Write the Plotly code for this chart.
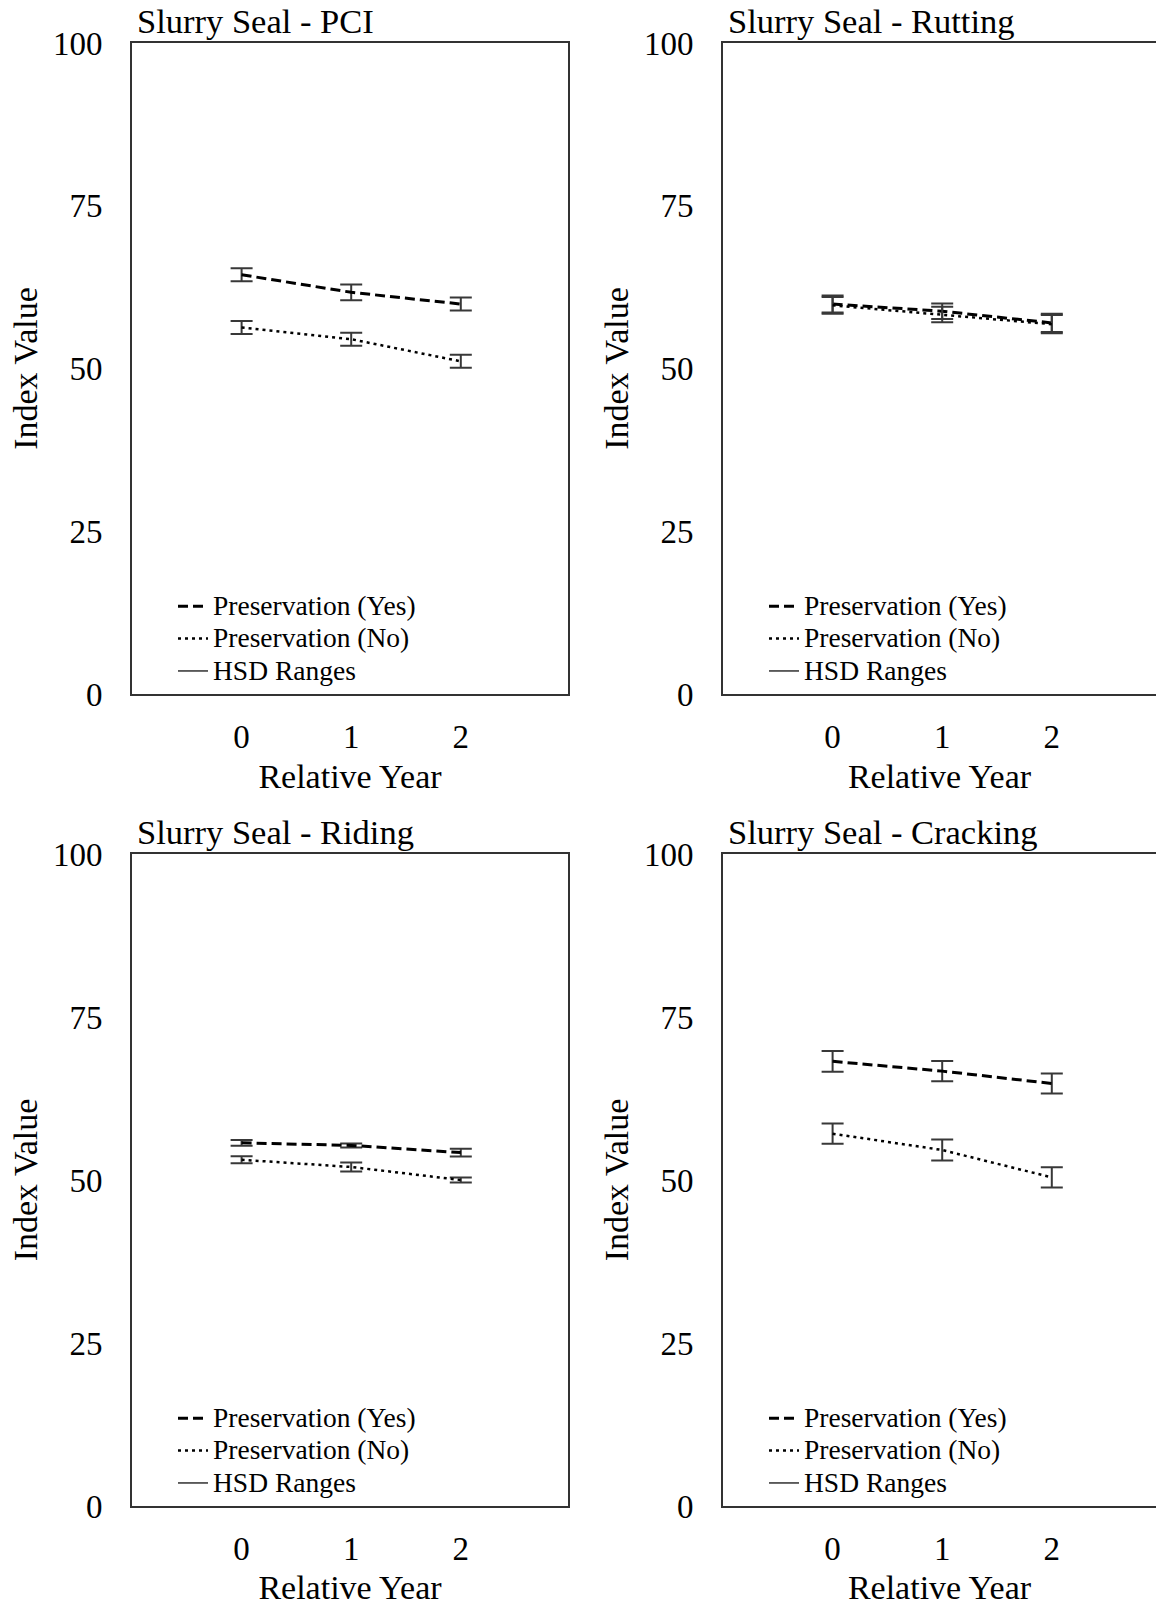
import plotly.graph_objects as go

# ---------------- data ----------------
years = [0, 1, 2]
year_ticks = ["0", "1", "2"]
y_ticks = [0, 25, 50, 75, 100]

titles = ["Slurry Seal - PCI", "Slurry Seal - Rutting", "Slurry Seal - Riding", "Slurry Seal - Cracking"]
series_names = ["Preservation (Yes)", "Preservation (No)", "HSD Ranges"]

pci_yes = [64.4, 61.7, 59.9]
pci_no = [56.3, 54.5, 51.1]
pci_hsd_yes = [1.0, 1.2, 1.0]
pci_hsd_no = [1.0, 1.0, 1.0]

rut_yes = [59.9, 58.8, 57.0]
rut_no = [59.7, 58.3, 56.8]
rut_hsd_yes = [1.3, 1.2, 1.4]
rut_hsd_no = [1.3, 1.2, 1.4]

rid_yes = [55.7, 55.3, 54.2]
rid_no = [53.1, 52.0, 50.0]
rid_hsd_yes = [0.45, 0.3, 0.6]
rid_hsd_no = [0.55, 0.7, 0.4]

crk_yes = [68.2, 66.7, 64.8]
crk_no = [57.1, 54.6, 50.4]
crk_hsd_yes = [1.6, 1.55, 1.55]
crk_hsd_no = [1.55, 1.6, 1.55]

panels = [
    (pci_yes, pci_no, pci_hsd_yes, pci_hsd_no),
    (rut_yes, rut_no, rut_hsd_yes, rut_hsd_no),
    (rid_yes, rid_no, rid_hsd_yes, rid_hsd_no),
    (crk_yes, crk_no, crk_hsd_yes, crk_hsd_no),
]

# ---------------- layout geometry ----------------
W, H = 1156, 1606
FONT = "Liberation Serif, Times New Roman, serif"
px_per_year = 109.6
left_x = [132, 723, 132, 723]
right_x = [568, 1156, 568, 1156]
top_y = [43, 43, 854, 854]
bot_y = [694, 694, 1506, 1506]
x0_offset = 109.6  # px from frame left to year 0


def legend_label(s):
    return '<span style="font-size:27.5px">' + s + '</span>'


fig = go.Figure()
axis_sfx = ["", "2", "3", "4"]
legend_names = ["legend", "legend2", "legend3", "legend4"]

for i, (yes, no, hyes, hno) in enumerate(panels):
    xa = "x" + axis_sfx[i]
    ya = "y" + axis_sfx[i]
    lg = legend_names[i]
    fig.add_trace(go.Scatter(
        x=years, y=yes, mode="lines", name=legend_label(series_names[0]),
        line=dict(color="black", width=3, dash="10px,5px"),
        error_y=dict(type="data", array=hyes, visible=True, color="#383838", thickness=2, width=11),
        xaxis=xa, yaxis=ya, legend=lg))
    fig.add_trace(go.Scatter(
        x=years, y=no, mode="lines", name=legend_label(series_names[1]),
        line=dict(color="black", width=2.5, dash="3px,4px"),
        error_y=dict(type="data", array=hno, visible=True, color="#383838", thickness=2, width=11),
        xaxis=xa, yaxis=ya, legend=lg))
    fig.add_trace(go.Scatter(
        x=[None], y=[None], mode="lines", name=legend_label(series_names[2]),
        line=dict(color="#303030", width=1.5),
        xaxis=xa, yaxis=ya, legend=lg))

layout = dict(
    template="none",
    width=W, height=H,
    margin=dict(l=0, r=0, t=0, b=0, autoexpand=False),
    paper_bgcolor="white", plot_bgcolor="white",
    font=dict(family=FONT, color="black", size=33),
    showlegend=True,
)

annotations = []
for i in range(4):
    xs = axis_sfx[i]
    xdom = [left_x[i] / W, right_x[i] / W]
    ydom = [1 - bot_y[i] / H, 1 - top_y[i] / H]
    width_px = right_x[i] - left_x[i]
    xr = [-x0_offset / px_per_year, (width_px - x0_offset) / px_per_year]
    right_panel = i in (1, 3)
    layout["xaxis" + xs] = dict(
        domain=xdom, range=xr, anchor="y" + xs, automargin=False,
        tickvals=years, ticktext=year_ticks,
        showgrid=False, zeroline=False,
        showline=True, linecolor="#333333", linewidth=2, mirror=True,
        ticks="", ticklabelstandoff=12,
        tickfont=dict(family=FONT, size=33, color="black"),
        title=dict(text="Relative Year", font=dict(family=FONT, size=34, color="black"), standoff=11),
    )
    layout["yaxis" + xs] = dict(
        domain=ydom, range=[0, 100], anchor="x" + xs, automargin=False,
        tickvals=y_ticks,
        showgrid=False, zeroline=False,
        showline=True, linecolor="#333333", linewidth=2, mirror=(not right_panel),
        ticks="", ticklabelstandoff=21,
        tickfont=dict(family=FONT, size=33, color="black"),
        title=dict(text="Index Value", font=dict(family=FONT, size=34, color="black"), standoff=5),
    )
    annotations.append(dict(
        text=titles[i], xref="paper", yref="paper",
        x=(left_x[i] + 3) / W, y=1 - (top_y[i] - 22) / H,
        xanchor="left", yanchor="middle", showarrow=False,
        font=dict(family=FONT, size=34.5, color="black")))
    layout[legend_names[i]] = dict(
        x=(left_x[i] + 41) / W, y=1 - (bot_y[i] - 109) / H,
        xanchor="left", yanchor="top",
        bgcolor="rgba(0,0,0,0)", borderwidth=0,
        font=dict(family=FONT, size=22.6, color="black"),
        tracegroupgap=0,
    )

layout["annotations"] = annotations
fig.update_layout(**layout)

fig.write_html("out.html")
